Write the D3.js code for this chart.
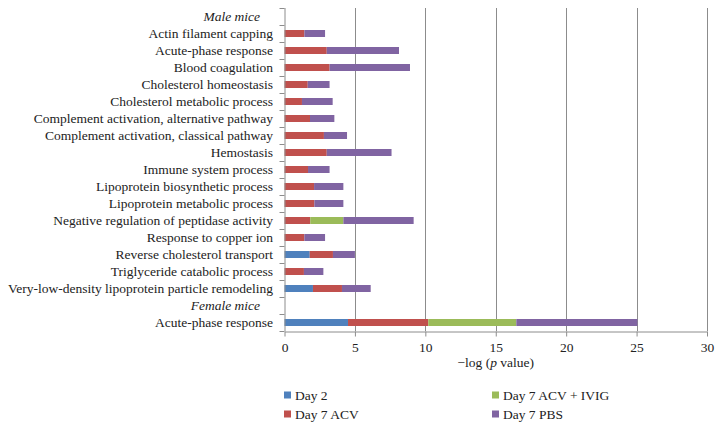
<!DOCTYPE html>
<html><head><meta charset="utf-8">
<script src="https://cdn.jsdelivr.net/npm/d3@7"></script>
<style>body{margin:0;background:#fff}</style>
</head><body>
<svg id="chart" width="722" height="430"></svg>
<script>
const categories = ["Male mice","Actin filament capping","Acute-phase response","Blood coagulation","Cholesterol homeostasis","Cholesterol metabolic process","Complement activation, alternative pathway","Complement activation, classical pathway","Hemostasis","Immune system process","Lipoprotein biosynthetic process","Lipoprotein metabolic process","Negative regulation of peptidase activity","Response to copper ion","Reverse cholesterol transport","Triglyceride catabolic process","Very-low-density lipoprotein particle remodeling","Female mice","Acute-phase response"];
const headerRows = [0, 17];
const seriesNames = ["Day 2","Day 7 ACV","Day 7 ACV + IVIG","Day 7 PBS"];
const day2      = [0,0,0,0,0,0,0,0,0,0,0,0,0,0,1.79,0,2.02,0,4.51];
const day7ACV   = [0,1.41,3.0,3.2,1.65,1.24,1.81,2.8,3.0,1.67,2.1,2.12,1.83,1.41,1.65,1.38,2.06,0,5.7];
const day7IVIG  = [0,0,0,0,0,0,0,0,0,0,0,0,2.35,0,0,0,0,0,6.25];
const day7PBS   = [0,1.47,5.13,5.71,1.55,2.18,1.73,1.64,4.6,1.53,2.08,2.06,4.99,1.47,1.56,1.38,2.04,0,8.6];
const xTicks = [0,5,10,15,20,25,30];
const colors = ["#4F81BD","#C0504D","#9BBB59","#8064A2"];

const svg = d3.select("#chart");
const font = "'Liberation Serif', 'DejaVu Serif', serif";
const pL = 284.5, pR = 707, pT = 8, pB = 331;
const x = d3.scaleLinear().domain([0,30]).range([pL,pR]);
const y = d3.scaleBand().domain(d3.range(categories.length)).range([pT,pB]).padding(0);
const barH = 7;

// gridlines
svg.append("g").selectAll("line").data(xTicks.filter(t=>t>0)).join("line")
  .attr("x1",d=>Math.round(x(d))+0.5).attr("x2",d=>Math.round(x(d))+0.5)
  .attr("y1",pT).attr("y2",pB).attr("stroke","#8c8c8c").attr("stroke-width",1);

// stacked bars
const rows = categories.map((c,i)=>({i, "Day 2":day2[i],"Day 7 ACV":day7ACV[i],"Day 7 ACV + IVIG":day7IVIG[i],"Day 7 PBS":day7PBS[i]}));
const stack = d3.stack().keys(seriesNames)(rows);
svg.append("g").selectAll("g").data(stack).join("g")
  .attr("fill",(d,k)=>colors[k])
  .selectAll("rect").data(d=>d.filter(s=>s[1]-s[0]>0)).join("rect")
  .attr("x",d=>x(d[0])).attr("width",d=>x(d[1])-x(d[0]))
  .attr("y",d=>y(d.data.i)+(y.bandwidth()-barH)/2).attr("height",barH);

// x axis
const xAxis = d3.axisBottom(x).tickValues(xTicks).tickSize(5).tickSizeOuter(0);
const gx = svg.append("g").attr("transform",`translate(0,${pB+0.5})`).call(xAxis);
gx.select(".domain").attr("stroke","#8c8c8c");
gx.selectAll(".tick line").attr("stroke","#8c8c8c");
gx.selectAll(".tick text").attr("font-family",font).attr("font-size",13.5).attr("fill","#222").attr("dy","0.9em");

// y axis
svg.append("line").attr("x1",pL+0.5).attr("x2",pL+0.5).attr("y1",pT).attr("y2",pB)
  .attr("stroke","#8c8c8c");
svg.append("g").selectAll("line").data(d3.range(categories.length+1)).join("line")
  .attr("x1",pL-5).attr("x2",pL)
  .attr("y1",d=>Math.round(pT+d*y.step())+0.5).attr("y2",d=>Math.round(pT+d*y.step())+0.5)
  .attr("stroke","#8c8c8c");
svg.append("g").selectAll("text").data(categories).join("text")
  .attr("x",(d,i)=>headerRows.includes(i)?260:273)
  .attr("y",(d,i)=>y(i)+y.bandwidth()/2).attr("dy","0.35em")
  .attr("text-anchor","end").attr("font-family",font).attr("font-size",13.5)
  .attr("font-style",(d,i)=>headerRows.includes(i)?"italic":"normal")
  .attr("fill","#222").text(d=>d);

// x title
const t = svg.append("text").attr("x",(pL+pR)/2).attr("y",367).attr("text-anchor","middle")
  .attr("font-family",font).attr("font-size",13.5).attr("fill","#222");
t.append("tspan").text("\u2212log (");
t.append("tspan").attr("font-style","italic").text("p");
t.append("tspan").text(" value)");

// legend
const legendPos = [[284,395],[284,414],[492,395],[492,414]];
const lg = svg.append("g").selectAll("g").data(seriesNames).join("g")
  .attr("transform",(d,i)=>`translate(${legendPos[i][0]},${legendPos[i][1]})`);
lg.append("rect").attr("x",0).attr("y",-3.5).attr("width",7).attr("height",7).attr("fill",(d,i)=>colors[i]);
lg.append("text").attr("x",11).attr("y",0).attr("dy","0.35em").attr("font-family",font).attr("font-size",13.5)
  .attr("fill","#222").text(d=>d);
</script>
</body></html>
